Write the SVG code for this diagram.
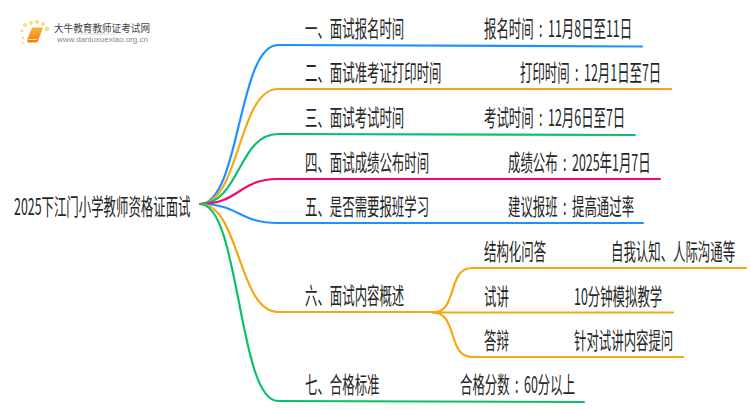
<svg xmlns="http://www.w3.org/2000/svg" width="750" height="410" viewBox="0 0 750 410">
<defs>
<linearGradient id="bk" x1="0" y1="0" x2="0" y2="1"><stop offset="0" stop-color="#fbb632"/><stop offset="1" stop-color="#ee7d10"/></linearGradient>
<linearGradient id="ul" x1="0" y1="0" x2="1" y2="0"><stop offset="0" stop-color="#ddd" stop-opacity="0"/><stop offset=".5" stop-color="#ccc"/><stop offset="1" stop-color="#ddd" stop-opacity="0"/></linearGradient>
</defs>
<style>
text{font-family:"Noto Sans CJK SC","Liberation Sans",sans-serif;font-size:23px;fill:#262626;word-spacing:5px}
.c{fill:none;stroke-linecap:round;stroke-width:2.2}
.b{stroke:#1e90ff}.o{stroke:#f5a70f}.g{stroke:#0dbf6c}.p{stroke:#f5076f}
.d{fill:#fbd784}
</style>
<rect width="750" height="410" fill="#fff"/>
<g id="logo">
<circle class="d" cx="22" cy="31" r="1.5"/><circle class="d" cx="25" cy="25" r="2"/><circle class="d" cx="31" cy="23" r="2"/><circle class="d" cx="37" cy="22" r="2"/><circle class="d" cx="43" cy="24" r="2"/><circle class="d" cx="47" cy="29" r="2.3"/><circle class="d" cx="23" cy="38" r="1.3"/><circle class="d" cx="23" cy="43" r="1"/>
<path d="M32 27.500H43L38 41Q37.500 42.500 36 42.500H28Q26.500 41.500 27.500 39Z" fill="url(#bk)"/>
<path d="M28.500 39.500H37" stroke="#ffe3a8" stroke-width="1"/>
<text x="54" y="31.500" textLength="96" lengthAdjust="spacingAndGlyphs" style="font-size:10.5px;fill:#444">大牛教育教师证考试网</text>
<rect x="56" y="33.500" width="80" height="1" fill="url(#ul)"/>
<text x="57" y="41.500" textLength="91" lengthAdjust="spacingAndGlyphs" style="font-family:'Liberation Sans',sans-serif;font-size:7px;fill:#888">www.daniuxuexiao.org.cn</text>
</g>
<g id="connectors">
<path class="c b" d="M200 204C240 204 238 45 278 45C340 45 400 45 642 46.500"/>
<path class="c o" d="M200 204C240 204 238 89 278 89H671"/>
<path class="c g" d="M200 204C240 204 238 134 278 134C340 134 400 134 635 135"/>
<path class="c p" d="M200 204C240 204 238 179 278 179H660"/>
<path class="c b" d="M200 204C240 204 238 223 278 223H643"/>
<path class="c o" d="M200 204C240 204 238 312 278 312H433"/>
<path class="c g" d="M200 204C240 204 238 401 278 401C340 401 400 401 584 402"/>
<path class="c o" d="M433 312.500C458 312.500 447 268 472 268H746"/>
<path class="c o" d="M433 312.500H673"/>
<path class="c o" d="M433 312.500C458 312.500 447 357 472 357H683"/>
</g>
<g id="root"><text transform="translate(14 215) scale(.54 1)">2025下江门小学教师资格证面试</text></g>
<g id="n1"><text transform="translate(305 36.500) scale(.54 1)">一、面试报名时间</text><text transform="translate(484 36.500) scale(.54 1)">报名时间 : 11月8日至11日</text></g>
<g id="n2"><text transform="translate(305 80.500) scale(.54 1)">二、面试准考证打印时间</text><text transform="translate(520 80.500) scale(.54 1)">打印时间 : 12月1日至7日</text></g>
<g id="n3"><text transform="translate(305 125.500) scale(.54 1)">三、面试考试时间</text><text transform="translate(484 125.500) scale(.54 1)">考试时间 : 12月6日至7日</text></g>
<g id="n4"><text transform="translate(305 170.500) scale(.54 1)">四、面试成绩公布时间</text><text transform="translate(508 170.500) scale(.54 1)">成绩公布 : 2025年1月7日</text></g>
<g id="n5"><text transform="translate(305 214.500) scale(.54 1)">五、是否需要报班学习</text><text transform="translate(508 214.500) scale(.54 1)">建议报班 : 提高通过率</text></g>
<g id="n6"><text transform="translate(305 303.500) scale(.54 1)">六、面试内容概述</text></g>
<g id="n6a"><text transform="translate(484 259.500) scale(.54 1)">结构化问答</text><text transform="translate(611 259.500) scale(.54 1)">自我认知、人际沟通等</text></g>
<g id="n6b"><text transform="translate(484 304.500) scale(.54 1)">试讲</text><text transform="translate(574 304.500) scale(.54 1)">10分钟模拟教学</text></g>
<g id="n6c"><text transform="translate(484 349) scale(.54 1)">答辩</text><text transform="translate(574 349) scale(.54 1)">针对试讲内容提问</text></g>
<g id="n7"><text transform="translate(305 393) scale(.54 1)">七、合格标准</text><text transform="translate(460 393) scale(.54 1)">合格分数 : 60分以上</text></g>
</svg>
